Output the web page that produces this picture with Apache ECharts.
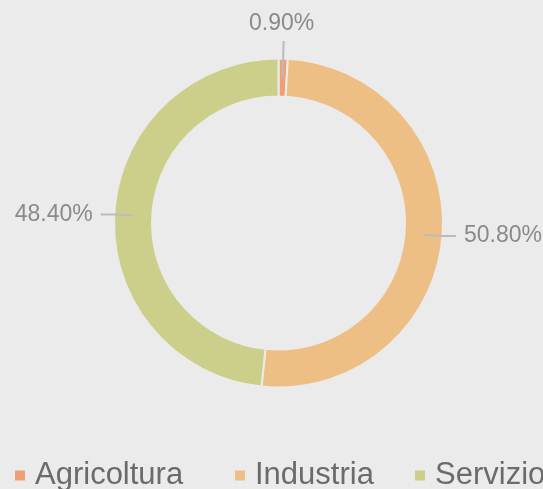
<!DOCTYPE html>
<html>
<head>
<meta charset="utf-8">
<script src="https://cdn.jsdelivr.net/npm/echarts@6/dist/echarts.min.js"></script>
<style>
html,body{margin:0;padding:0;background:#ebebeb;}
#chart{width:543px;height:489px;}
</style>
</head>
<body>
<div id="chart"></div>
<script>
const categories = ['Agricoltura', 'Industria', 'Servizio'];
const values = [0.9, 50.8, 48.4];
const colors = ['#ef9f76', '#eebf85', '#cbcf89'];
const legendLeft = [13, 233, 413];

const FONT = 'Liberation Sans, Arial, sans-serif';
const ringData = categories.map((c, i) => ({ name: c, value: values[i], itemStyle: { color: colors[i] } }));
const labelData = categories.map((c, i) => {
  const d = { name: c, value: values[i] };
  if (i === 0) d.labelLine = { length: 36, length2: 0 };
  return d;
});

const chart = echarts.init(document.getElementById('chart'), null, { renderer: 'canvas' });
chart.setOption({
  backgroundColor: '#ebebeb',
  animation: false,
  legend: categories.map((c, i) => ({
    data: [c],
    left: legendLeft[i],
    top: 460,
    padding: 0,
    itemWidth: 12,
    itemHeight: 12,
    itemGap: 0,
    icon: 'rect',
    selectedMode: false,
    textStyle: { fontSize: 31, color: '#6b6b6b', fontFamily: FONT, padding: [0, 0, 0, 4] }
  })),
  series: [
    {
      type: 'pie',
      z: 2,
      center: [278.5, 223],
      radius: [126.5, 164.5],
      startAngle: 90,
      clockwise: true,
      silent: true,
      itemStyle: { borderColor: '#ebebeb', borderWidth: 2 },
      label: { show: false },
      labelLine: { show: false },
      data: ringData
    },
    {
      type: 'pie',
      z: 5,
      zlevel: 1,
      center: [278.5, 223],
      radius: [0, 146],
      startAngle: 90,
      clockwise: true,
      silent: true,
      itemStyle: { color: 'rgba(0,0,0,0)', borderWidth: 0 },
      label: {
        show: true,
        position: 'outside',
        fontSize: 23,
        color: '#8a8a8a',
        fontFamily: FONT,
        overflow: 'none',
        distanceToLabelLine: 8,
        formatter: p => p.value.toFixed(2) + '%'
      },
      labelLine: { show: true, length: 18, length2: 14, lineStyle: { color: '#bcbcbc', width: 2 } },
      labelLayout: function (p) {
        if (p.dataIndex === 0 && p.labelLinePoints) {
          const pts = p.labelLinePoints;
          const end = pts[pts.length - 1];
          return {
            x: end[0] - 2,
            y: end[1] - 17,
            align: 'center',
            verticalAlign: 'middle',
            labelLinePoints: pts
          };
        }
        return {};
      },
      data: labelData
    }
  ]
});
</script>
</body>
</html>
